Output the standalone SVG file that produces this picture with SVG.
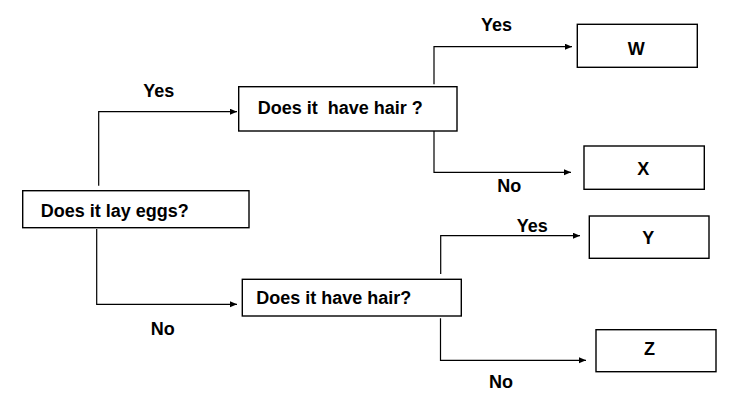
<svg xmlns="http://www.w3.org/2000/svg" width="738" height="410" viewBox="0 0 738 410">
<style>
.box{fill:#fff;stroke:#000;stroke-width:1.4}
.t{font-family:"Liberation Sans",Arial,sans-serif;font-weight:bold;font-size:18px;fill:#000}
.c{text-anchor:middle}
.ln{fill:none;stroke:#000;stroke-width:1.2;marker-end:url(#ah)}
</style>
<defs>
<marker id="ah" markerUnits="userSpaceOnUse" markerWidth="8" markerHeight="8" refX="7" refY="3" orient="auto">
<path d="M0,0 L7,3 L0,6 Z" fill="#000"/>
</marker>
</defs>
<rect width="738" height="410" fill="#fff"/>
<g id="connectors">
<path class="ln" d="M98.7,185.7 V111.7 H237"/>
<path class="ln" d="M96.7,229 V304.3 H237"/>
<path class="ln" d="M434,84.3 V46.7 H572"/>
<path class="ln" d="M434,131 V172.3 H571"/>
<path class="ln" d="M440.7,274 V235.7 H580"/>
<path class="ln" d="M440.5,318.3 V360.3 H586"/>
</g>
<g id="labels">
<text class="t" x="143.3" y="96.7">Yes</text>
<text class="t" x="150.7" y="335">No</text>
<text class="t" x="481" y="30.7">Yes</text>
<text class="t" x="497.3" y="191.7">No</text>
<text class="t" x="516.7" y="231.7">Yes</text>
<text class="t" x="489" y="387.7">No</text>
</g>
<g id="n-eggs">
<rect class="box" x="22.7" y="190.7" width="226.3" height="37"/>
<text class="t" x="40.7" y="216.7">Does it lay eggs?</text>
</g>
<g id="n-hair1">
<rect class="box" x="238.7" y="86.7" width="218.3" height="44.3"/>
<text class="t" x="257.7" y="113.7" xml:space="preserve">Does it  have hair ?</text>
</g>
<g id="n-hair2">
<rect class="box" x="242.3" y="279.3" width="219" height="36.7"/>
<text class="t" x="256.3" y="304">Does it have hair?</text>
</g>
<g id="n-w">
<rect class="box" x="577.3" y="24.3" width="120" height="43"/>
<text class="t c" x="636.3" y="55">W</text>
</g>
<g id="n-x">
<rect class="box" x="584" y="146" width="120.3" height="43.3"/>
<text class="t c" x="643.3" y="175">X</text>
</g>
<g id="n-y">
<rect class="box" x="589.3" y="216" width="119.7" height="42.3"/>
<text class="t c" x="648.3" y="244">Y</text>
</g>
<g id="n-z">
<rect class="box" x="596" y="329.7" width="120" height="42"/>
<text class="t c" x="649.5" y="355">Z</text>
</g>
</svg>
